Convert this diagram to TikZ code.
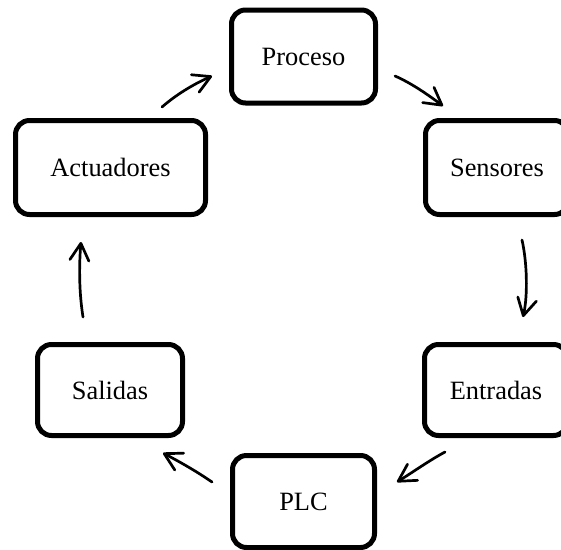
\documentclass[tikz,border=0pt]{standalone}
\usepackage{fontspec}
\setmainfont{Liberation Serif}
\usetikzlibrary{arrows.meta}
\begin{document}
\begin{tikzpicture}[x=1pt,y=-1pt,
  box/.style={draw=black, line width=5pt, rounded corners=14pt, fill=white,
    inner sep=0pt, font=\fontsize{26.4}{30}\selectfont},
  arr/.style={line width=2.7pt, line cap=round,
    -{Straight Barb[length=17pt,width=19pt,line width=2.7pt,round]}}]
\useasboundingbox (0,0) rectangle (561,549);
\clip (0,0) rectangle (561,549);
\node[box, minimum width=144pt, minimum height=93pt] (proc) at (303.5,56.5) {Proceso};
\node[box, minimum width=143pt, minimum height=94pt] (sens) at (497,167.5) {Sensores};
\node[box, minimum width=190pt, minimum height=94pt] (act) at (110.5,167.5) {Actuadores};
\node[box, minimum width=145pt, minimum height=91pt] (sal) at (110,390) {Salidas};
\node[box, minimum width=143pt, minimum height=91pt] (ent) at (496,390) {Entradas};
\node[box, minimum width=142pt, minimum height=92pt] (plc) at (303.5,501.5) {PLC};
\coordinate (a1s) at (395,76);  \coordinate (a1e) at (443,106);
\coordinate (a2s) at (522,240); \coordinate (a2e) at (523,317);
\coordinate (a3s) at (445,452); \coordinate (a3e) at (397,482);
\coordinate (a4s) at (212,482); \coordinate (a4e) at (163,453);
\coordinate (a5s) at (83,317);  \coordinate (a5e) at (81,242);
\coordinate (a6s) at (162,107); \coordinate (a6e) at (212,76);
\draw[arr] (a1s) .. controls (411,83) and (427,94) .. (a1e);
\draw[arr] (a2s) .. controls (527,262) and (528,295) .. (a2e);
\draw[arr] (a3s) .. controls (430,460) and (413,472) .. (a3e);
\draw[arr] (a4s) .. controls (196,471) and (180,462) .. (a4e);
\draw[arr] (a5s) .. controls (79,292) and (79,265) .. (a5e);
\draw[arr] (a6s) .. controls (177,94) and (194,84) .. (a6e);
\end{tikzpicture}
\end{document}
